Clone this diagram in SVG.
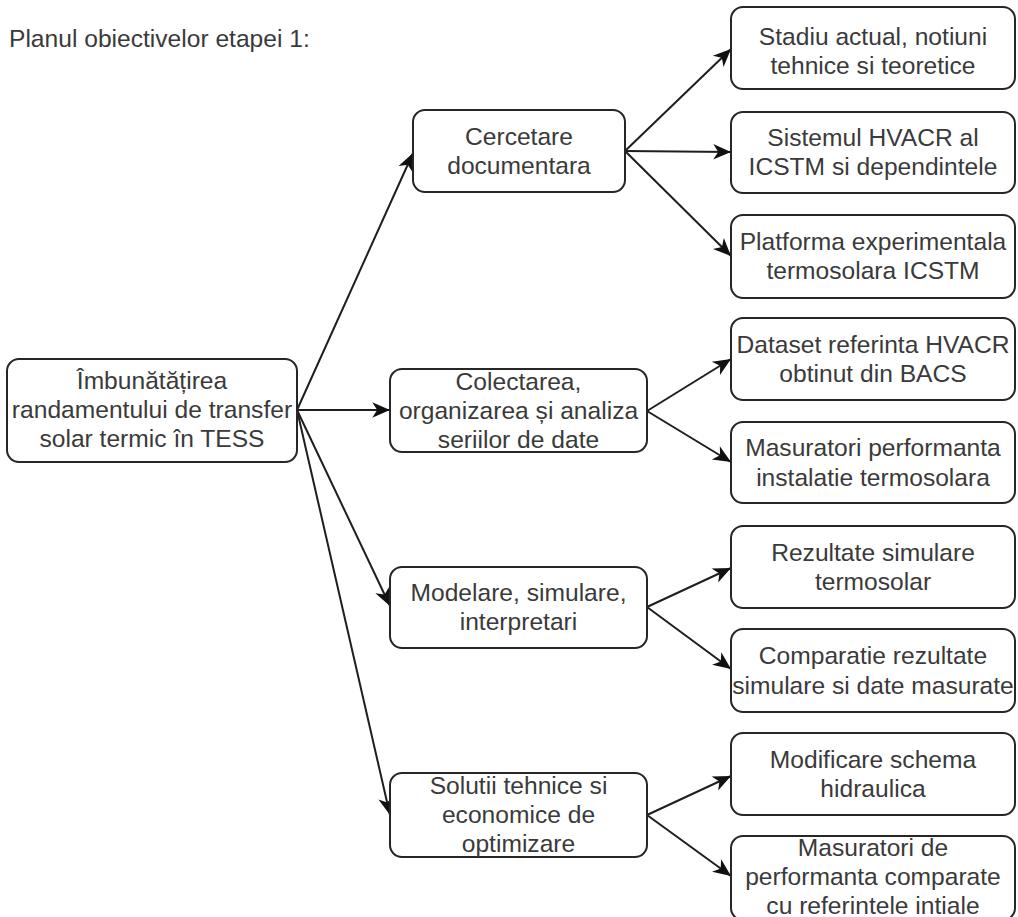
<svg xmlns="http://www.w3.org/2000/svg" width="1018" height="917" viewBox="0 0 1018 917">
  <style>
    .box { fill: #ffffff; stroke: #262626; stroke-width: 2; }
    .lbl { font-family: "Liberation Sans", Arial, sans-serif; font-size: 24.6px; fill: #3a3a3a; text-anchor: middle; }
    .title { font-family: "Liberation Sans", Arial, sans-serif; font-size: 24.6px; fill: #3a3a3a; }
    .edge { fill: none; stroke: #1e1e1e; stroke-width: 2; }
  </style>
  <defs>
    <marker id="arrow" markerUnits="userSpaceOnUse" markerWidth="20" markerHeight="20" viewBox="-17 -8 18 16" refX="0" refY="0" orient="auto">
      <path d="M0,0 L-16,-7 L-11.5,0 L-16,7 Z" fill="#111111"/>
    </marker>
  </defs>
  <rect width="1018" height="917" fill="#ffffff"/>

  <text class="title" x="9" y="47">Planul obiectivelor etapei 1:</text>

  <!-- connectors -->
  <g id="connectors">
    <line class="edge" x1="297" y1="410" x2="413" y2="153" marker-end="url(#arrow)"/>
    <line class="edge" x1="297" y1="410" x2="390" y2="410" marker-end="url(#arrow)"/>
    <line class="edge" x1="297" y1="410" x2="390" y2="606" marker-end="url(#arrow)"/>
    <line class="edge" x1="297" y1="410" x2="390" y2="815" marker-end="url(#arrow)"/>
    <line class="edge" x1="625" y1="151" x2="731" y2="49" marker-end="url(#arrow)"/>
    <line class="edge" x1="625" y1="151" x2="731" y2="152" marker-end="url(#arrow)"/>
    <line class="edge" x1="625" y1="151" x2="731" y2="256" marker-end="url(#arrow)"/>
    <line class="edge" x1="647" y1="411" x2="731" y2="359" marker-end="url(#arrow)"/>
    <line class="edge" x1="647" y1="411" x2="731" y2="462" marker-end="url(#arrow)"/>
    <line class="edge" x1="647" y1="607" x2="731" y2="568" marker-end="url(#arrow)"/>
    <line class="edge" x1="647" y1="607" x2="731" y2="669" marker-end="url(#arrow)"/>
    <line class="edge" x1="647" y1="815" x2="731" y2="776" marker-end="url(#arrow)"/>
    <line class="edge" x1="647" y1="815" x2="731" y2="876" marker-end="url(#arrow)"/>
  </g>

  <!-- root -->
  <g id="root">
    <rect class="box" x="7" y="359" width="290" height="103" rx="12"/>
    <text class="lbl" x="152" y="389">Îmbunătățirea</text>
    <text class="lbl" x="152" y="418">randamentului de transfer</text>
    <text class="lbl" x="152" y="447">solar termic în TESS</text>
  </g>

  <!-- second level -->
  <g id="cercetare">
    <rect class="box" x="413" y="110" width="212" height="82" rx="12"/>
    <text class="lbl" x="519" y="144.5">Cercetare</text>
    <text class="lbl" x="519" y="174">documentara</text>
  </g>
  <g id="colectarea">
    <rect class="box" x="390" y="369" width="257" height="83" rx="12"/>
    <text class="lbl" x="518.5" y="390">Colectarea,</text>
    <text class="lbl" x="518.5" y="419">organizarea și analiza</text>
    <text class="lbl" x="518.5" y="448">seriilor de date</text>
  </g>
  <g id="modelare">
    <rect class="box" x="390" y="567" width="257" height="81" rx="12"/>
    <text class="lbl" x="518.5" y="601">Modelare, simulare,</text>
    <text class="lbl" x="518.5" y="630">interpretari</text>
  </g>
  <g id="solutii">
    <rect class="box" x="390" y="773" width="257" height="84" rx="12"/>
    <text class="lbl" x="518.5" y="794">Solutii tehnice si</text>
    <text class="lbl" x="518.5" y="823">economice de</text>
    <text class="lbl" x="518.5" y="852">optimizare</text>
  </g>

  <!-- third level -->
  <g id="stadiu">
    <rect class="box" x="731" y="7" width="284" height="82" rx="12"/>
    <text class="lbl" x="873" y="44.5">Stadiu actual, notiuni</text>
    <text class="lbl" x="873" y="74">tehnice si teoretice</text>
  </g>
  <g id="sistemul">
    <rect class="box" x="731" y="112" width="284" height="81" rx="12"/>
    <text class="lbl" x="873" y="145.5">Sistemul HVACR al</text>
    <text class="lbl" x="873" y="175">ICSTM si dependintele</text>
  </g>
  <g id="platforma">
    <rect class="box" x="731" y="215" width="284" height="83" rx="12"/>
    <text class="lbl" x="873" y="249.5">Platforma experimentala</text>
    <text class="lbl" x="873" y="279">termosolara ICSTM</text>
  </g>
  <g id="dataset">
    <rect class="box" x="731" y="318" width="284" height="82" rx="12"/>
    <text class="lbl" x="873" y="352.5">Dataset referinta HVACR</text>
    <text class="lbl" x="873" y="382">obtinut din BACS</text>
  </g>
  <g id="masuratori-performanta">
    <rect class="box" x="731" y="422" width="284" height="81" rx="12"/>
    <text class="lbl" x="873" y="456">Masuratori performanta</text>
    <text class="lbl" x="873" y="485.5">instalatie termosolara</text>
  </g>
  <g id="rezultate">
    <rect class="box" x="731" y="526" width="284" height="82" rx="12"/>
    <text class="lbl" x="873" y="560.5">Rezultate simulare</text>
    <text class="lbl" x="873" y="590">termosolar</text>
  </g>
  <g id="comparatie">
    <rect class="box" x="731" y="629" width="284" height="83" rx="12"/>
    <text class="lbl" x="873" y="664">Comparatie rezultate</text>
    <text class="lbl" x="873" y="693.5">simulare si date masurate</text>
  </g>
  <g id="modificare">
    <rect class="box" x="731" y="733" width="284" height="82" rx="12"/>
    <text class="lbl" x="873" y="767.5">Modificare schema</text>
    <text class="lbl" x="873" y="797">hidraulica</text>
  </g>
  <g id="masuratori-comparate">
    <rect class="box" x="731" y="836" width="284" height="84" rx="12"/>
    <text class="lbl" x="873" y="855.5">Masuratori de</text>
    <text class="lbl" x="873" y="884.5">performanta comparate</text>
    <text class="lbl" x="873" y="913.5">cu referintele intiale</text>
  </g>
</svg>
